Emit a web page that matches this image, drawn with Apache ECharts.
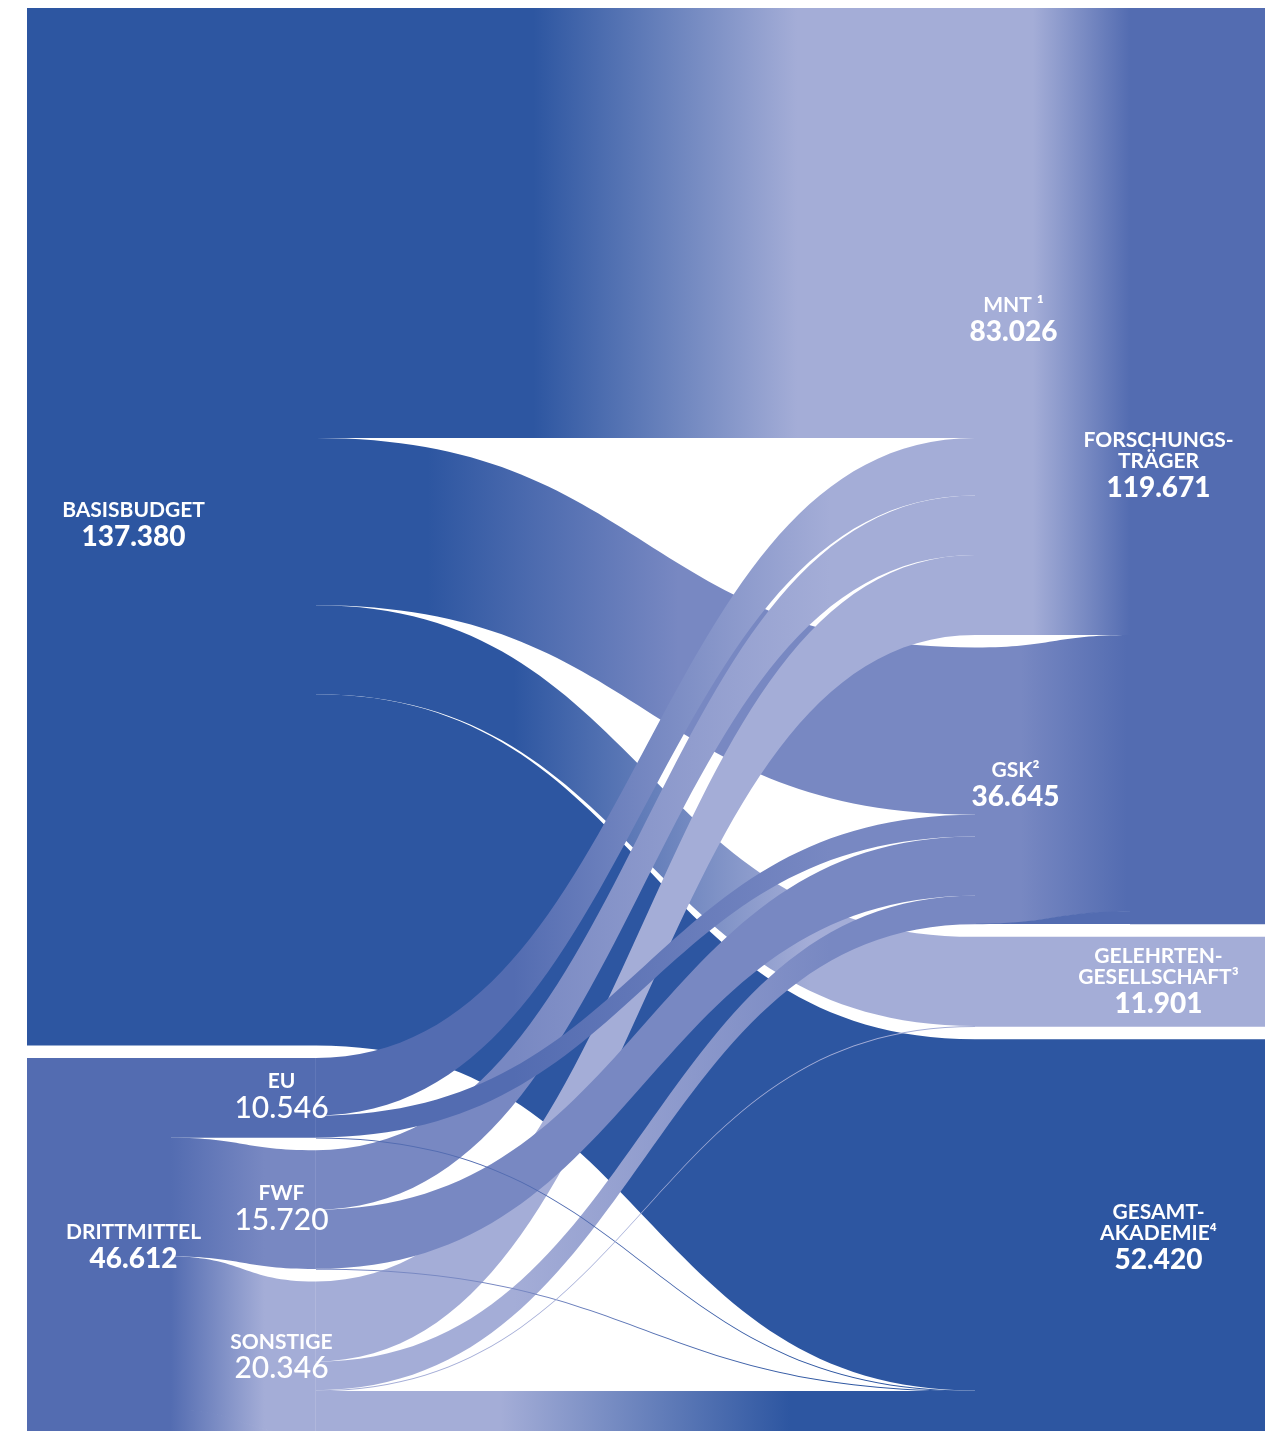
<!DOCTYPE html>
<html>
<head>
<meta charset="utf-8">
<script src="https://cdn.jsdelivr.net/npm/echarts@6/dist/echarts.min.js"></script>
<style>
html,body{margin:0;padding:0;background:#ffffff;}
#c{width:1284px;height:1431px;}
</style>
</head>
<body>
<div id="c"></div>
<script>
// ---------------- DATA (values in thousand EUR) ----------------
const sourceNames   = ['Basisbudget', 'Drittmittel'];
const sourceValues  = [137380, 46612];
const thirdNames    = ['EU', 'FWF', 'Sonstige'];
const thirdValues   = [10546, 15720, 20346];
const fieldNames    = ['MNT', 'GSK'];
const fieldValues   = [83026, 36645];
const targetNames   = ['Forschungsträger', 'Gelehrtengesellschaft', 'Gesamtakademie'];
const targetValues  = [119671, 11901, 52420];

// flows from Basisbudget / EU / FWF / Sonstige to the receiving units
const flowFrom   = ['Basisbudget','Basisbudget','Basisbudget','Basisbudget',
                    'Sonstige',
                    'EU','FWF','Sonstige',
                    'EU','FWF','Sonstige',
                    'EU','FWF','Sonstige'];
const flowTo     = ['Gesamtakademie','Gelehrtengesellschaft','GSK','MNT',
                    'Gesamtakademie',
                    'MNT','MNT','MNT',
                    'GSK','GSK','GSK',
                    'Gesamtakademie','Gesamtakademie','Gelehrtengesellschaft'];
const flowValues = [46520, 11790, 22120, 56950,
                    5835,
                    7600, 7876, 10600,
                    2900, 7825, 3800,
                    46, 19, 111];

// label texts
const labelLines = {
  'Basisbudget': ['BASISBUDGET'],
  'Drittmittel': ['DRITTMITTEL'],
  'EU': ['EU'],
  'FWF': ['FWF'],
  'Sonstige': ['SONSTIGE'],
  'MNT': ['MNT ¹'],
  'GSK': ['GSK²'],
  'Forschungsträger': ['FORSCHUNGS-', 'TRÄGER'],
  'Gelehrtengesellschaft': ['GELEHRTEN-', 'GESELLSCHAFT³'],
  'Gesamtakademie': ['GESAMT-', 'AKADEMIE⁴']
};

// ---------------- STYLE / LAYOUT ----------------
const C = {dark:'#2d56a1', mid:'#536cb1', gsk:'#7888c2', light:'#a4add7', none:'rgba(0,0,0,0)'};
const nodeColor = {
  'Basisbudget': C.dark, 'Drittmittel': C.mid, 'EU': C.mid, 'FWF': C.gsk, 'Sonstige': C.light,
  'MNT': C.light, 'GSK': C.gsk, 'Forschungsträger': C.mid,
  'Gelehrtengesellschaft': C.light, 'Gesamtakademie': C.dark
};
const colX = [27, 170, 315, 975, 1130, 1264];
const LEFT = 27, WIDTH = 1238, TOP = 8;
const unitPx = 7.55 / 1000;
const gapPx = 12.5;
const g = gapPx / unitPx;
const total = sourceValues[0] + sourceValues[1];
const HEIGHT = (total + 5 * g) * unitPx + 0.5;
const lx = d => (colX[d] - LEFT) / WIDTH;

function fmt(v) { return String(v).replace(/\B(?=(\d{3})+(?!\d))/g, '.'); }
function grad(c1, f1, c2, f2) {
  return {type:'linear', x:0, y:0, x2:1, y2:0, global:false,
          colorStops:[{offset:0,color:c1},{offset:f1,color:c1},{offset:f2,color:c2},{offset:1,color:c2}]};
}
const rich = {
  n: {fontFamily:'Lato', fontWeight:'bold', fontSize:21, lineHeight:21, color:'#fff'},
  v: {fontFamily:'Lato', fontWeight:900, fontSize:28, lineHeight:33, color:'#fff'},
  w: {fontFamily:'Lato', fontWeight:500, fontSize:30, lineHeight:33, color:'#fff'}
};
const valueOf = {};
sourceNames.forEach((n,i)=>valueOf[n]=sourceValues[i]);
thirdNames.forEach((n,i)=>valueOf[n]=thirdValues[i]);
fieldNames.forEach((n,i)=>valueOf[n]=fieldValues[i]);
targetNames.forEach((n,i)=>valueOf[n]=targetValues[i]);

function labelFor(name, dx, dy, light) {
  const txt = labelLines[name].map(s => '{n|' + s + '}').join('\n') + '\n{' + (light ? 'w' : 'v') + '|' + fmt(valueOf[name]) + '}';
  return {show:true, position:'inside', offset:[dx, dy], align:'center', formatter: () => txt, rich: rich,
          textBorderWidth:0, color:'#fff'};
}

const nodes = [];
function addNode(id, depth, color, extra) {
  nodes.push(Object.assign({name:id, depth:depth, localX:lx(depth),
    itemStyle:{color:color, opacity:1, borderWidth:0}, label:{show:false}}, extra || {}));
}
// column 0
addNode('Basisbudget', 0, C.dark, {label: labelFor('Basisbudget', 106, 0, false)});
addNode('sp0', 0, C.none, {value:g});
addNode('Drittmittel', 0, C.mid, {label: labelFor('Drittmittel', 106, 2, false)});
// column 1
addNode('BB_a', 1, C.dark);
addNode('sp1', 1, C.none, {value:g});
addNode('DM_a', 1, C.mid);
// column 2
addNode('BB_b', 2, C.dark);
addNode('sp2a', 2, C.none, {value:g});
addNode('EU', 2, '#6077b8', {label: labelFor('EU', -34, 0, true)});
addNode('sp2b', 2, C.none, {value:g});
addNode('FWF', 2, '#8593c9', {label: labelFor('FWF', -34, 0, true)});
addNode('sp2c', 2, C.none, {value:g});
addNode('Sonstige', 2, '#b0b7dc', {label: labelFor('Sonstige', -34, 0, true)});
addNode('SPB', 2, C.light);
// column 3
addNode('MNT', 3, C.light, {label: labelFor('MNT', 38, 0, false)});
addNode('sp3a', 3, C.none, {value:g});
addNode('GSK', 3, C.gsk, {label: labelFor('GSK', 40, 1, false)});
addNode('sp3b', 3, C.none, {value:g});
addNode('GEL_a', 3, C.light);
addNode('sp3c', 3, C.none, {value:g});
addNode('GES_a', 3, C.dark);
// column 4
addNode('FT_a', 4, C.mid);
// column 5
addNode('Forschungsträger', 5, C.mid, {label: labelFor('Forschungsträger', -106, 1, false)});
addNode('sp5a', 5, C.none, {value:g});
addNode('Gelehrtengesellschaft', 5, C.light, {label: labelFor('Gelehrtengesellschaft', -106, 1, false)});
addNode('sp5b', 5, C.none, {value:g});
addNode('Gesamtakademie', 5, C.dark, {label: labelFor('Gesamtakademie', -106, 2, false)});

const links = [];
function addLink(s, t, v, color, extra) {
  links.push({source:s, target:t, value:v,
    lineStyle:Object.assign({color:color, opacity:1, curveness:0.5}, extra || {})});
}
// left blocks
addLink('Basisbudget', 'BB_a', sourceValues[0], C.dark);
addLink('Drittmittel', 'DM_a', sourceValues[1] + 2 * g, C.mid);
addLink('BB_a', 'BB_b', sourceValues[0], C.dark);
addLink('DM_a', 'EU', thirdValues[0], C.mid);
addLink('DM_a', 'FWF', thirdValues[1], grad(C.mid, 0.0, C.gsk, 0.65));
addLink('DM_a', 'Sonstige', thirdValues[2], grad(C.mid, 0.0, C.light, 0.65));
addLink('DM_a', 'SPB', 2 * g, grad(C.mid, 0.0, C.light, 0.65),
        {borderColor: grad(C.mid, 0.0, C.light, 0.65), borderWidth: 1.5});

// flow colours (gradient span along each band)
const flowGrad = {
  'Basisbudget>MNT': [0.33, 0.73],
  'Basisbudget>GSK': [0.17, 0.55],
  'Basisbudget>Gelehrtengesellschaft': [0.30, 0.75],
  'Basisbudget>Gesamtakademie': [0.3, 0.7],
  'Sonstige>Gesamtakademie': [0.28, 0.72]
};
const mapNode = {'Basisbudget':'BB_b', 'Gelehrtengesellschaft':'GEL_a', 'Gesamtakademie':'GES_a'};
flowFrom.forEach((f, i) => {
  const t = flowTo[i];
  const span = flowGrad[f + '>' + t] || [0.3, 0.78];
  addLink(mapNode[f] || f, mapNode[t] || t, flowValues[i],
          grad(nodeColor[f], span[0], nodeColor[t], span[1]));
});
// right blocks
addLink('MNT', 'FT_a', fieldValues[0], grad(C.light, 0.37, C.mid, 1.0));
addLink('GSK', 'FT_a', fieldValues[1], grad(C.gsk, 0.29, C.mid, 0.98));
// filler under the GSK band so the Forschungsträger block keeps a flat lower edge
const fillerGrad = () => ({type:'linear', x:0, y:0, x2:0, y2:1, global:false,
  colorStops:[{offset:0,color:C.mid},{offset:0.5,color:C.mid},{offset:0.5,color:C.none},{offset:1,color:C.none}]});
addLink('sp3b', 'FT_a', g, fillerGrad(), {borderColor: fillerGrad(), borderWidth: 1.2});
addLink('FT_a', 'Forschungsträger', targetValues[0] + g, C.mid);
addLink('GEL_a', 'Gelehrtengesellschaft', targetValues[1], C.light);
addLink('GES_a', 'Gesamtakademie', targetValues[2], C.dark);

const chart = echarts.init(document.getElementById('c'), null, {renderer:'canvas'});
chart.setOption({
  animation: false,
  backgroundColor: '#ffffff',
  tooltip: {show:false},
  series: [{
    type: 'sankey',
    left: LEFT, top: TOP, width: WIDTH, height: HEIGHT,
    nodeWidth: 1,
    nodeGap: 0,
    nodeAlign: 'left',
    layoutIterations: 0,
    draggable: false,
    emphasis: {disabled: true},
    label: {show:false},
    data: nodes,
    links: links
  }]
});
</script>
</body>
</html>
